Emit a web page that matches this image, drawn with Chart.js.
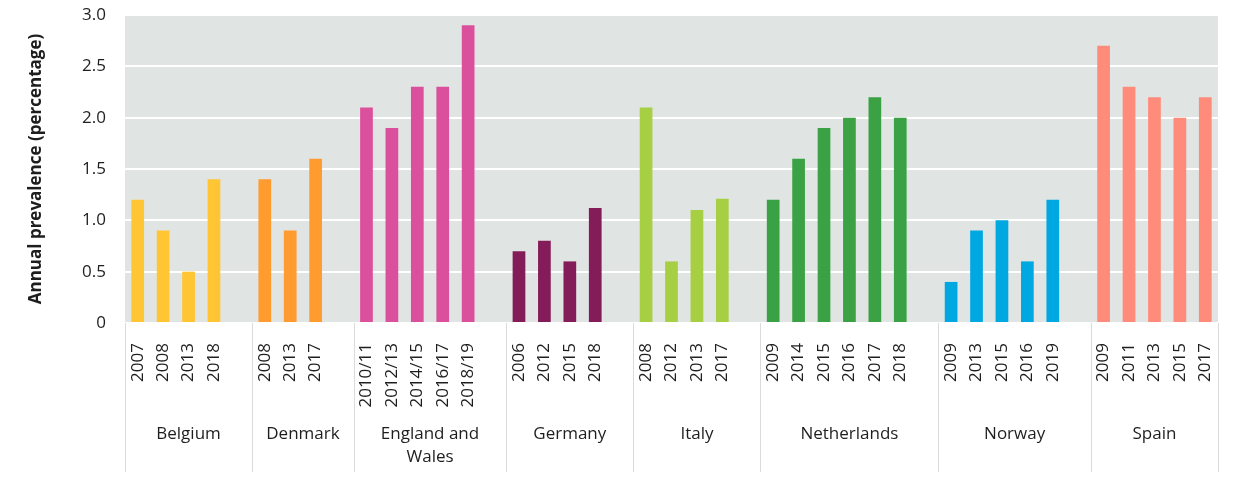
<!DOCTYPE html>
<html>
<head>
<meta charset="utf-8">
<script src="https://cdn.jsdelivr.net/npm/chart.js@4/dist/chart.umd.min.js"></script>
<style>
  html, body { margin: 0; padding: 0; background: #fff; }
  #wrap { width: 1240px; height: 487px; }
</style>
</head>
<body>
<div id="wrap"><canvas id="prevalence-chart" width="1240" height="487"></canvas></div>
<script>
const countries = ["Belgium", "Denmark", ["England and", "Wales"], "Germany", "Italy", "Netherlands", "Norway", "Spain"];
const years = [
  ["2007", "2008", "2013", "2018"],
  ["2008", "2013", "2017"],
  ["2010/11", "2012/13", "2014/15", "2016/17", "2018/19"],
  ["2006", "2012", "2015", "2018"],
  ["2008", "2012", "2013", "2017"],
  ["2009", "2014", "2015", "2016", "2017", "2018"],
  ["2009", "2013", "2015", "2016", "2019"],
  ["2009", "2011", "2013", "2015", "2017"],
];
const values = [
  [1.2, 0.9, 0.5, 1.4],
  [1.4, 0.9, 1.6],
  [2.1, 1.9, 2.3, 2.3, 2.9],
  [0.7, 0.8, 0.6, 1.12],
  [2.1, 0.6, 1.1, 1.21],
  [1.2, 1.6, 1.9, 2.0, 2.2, 2.0],
  [0.4, 0.9, 1.0, 0.6, 1.2],
  [2.7, 2.3, 2.2, 2.0, 2.2],
];
const colors = ["#ffc533", "#ff9b2f", "#db509c", "#841c5a", "#a6cf44", "#3aa245", "#00a8e1", "#ff8c7a"];
const yTicks = [0, 0.5, 1.0, 1.5, 2.0, 2.5, 3.0];

// flatten into slots, one empty slot after every group but the last
const labels = [];
const data = [];
const barColors = [];
const groups = []; // [startIndex, endIndexExclusive]
countries.forEach((c, i) => {
  const start = labels.length;
  years[i].forEach((y, j) => {
    labels.push(y);
    data.push(values[i][j]);
    barColors.push(colors[i]);
  });
  if (i < countries.length - 1) {
    labels.push("");
    data.push(null);
    barColors.push("transparent");
  }
  groups.push([start, labels.length]);
});

const FONT = "'Open Sans', 'DejaVu Sans', sans-serif";
const TEXT = "#1e1e1e";

const plotBg = {
  id: "plotBg",
  beforeDraw(chart) {
    const { ctx, chartArea: a } = chart;
    ctx.save();
    ctx.fillStyle = "#e0e4e3";
    ctx.fillRect(a.left, a.top, a.right - a.left, a.bottom - a.top);
    ctx.restore();
  },
};

const groupLabels = {
  id: "groupLabels",
  afterDraw(chart) {
    const { ctx, chartArea: a } = chart;
    const x = chart.scales.x;
    const half = (x.getPixelForValue(1) - x.getPixelForValue(0)) / 2;
    ctx.save();
    ctx.strokeStyle = "#d9dcdb";
    ctx.lineWidth = 1;
    const edges = [x.getPixelForValue(0) - half];
    groups.forEach((g) => edges.push(x.getPixelForValue(g[1] - 1) + half));
    edges.forEach((px) => {
      const xx = Math.round(px) + 0.5;
      ctx.beginPath();
      ctx.moveTo(xx, a.bottom);
      ctx.lineTo(xx, 472);
      ctx.stroke();
    });
    ctx.fillStyle = TEXT;
    ctx.font = "17px " + FONT;
    ctx.textAlign = "center";
    ctx.textBaseline = "middle";
    countries.forEach((c, i) => {
      const cx = (edges[i] + edges[i + 1]) / 2;
      const lines = Array.isArray(c) ? c : [c];
      lines.forEach((line, k) => ctx.fillText(line, cx, 434 + k * 23));
    });
    ctx.restore();
  },
};

new Chart(document.getElementById("prevalence-chart"), {
  type: "bar",
  data: {
    labels,
    datasets: [
      {
        data,
        backgroundColor: barColors,
        borderWidth: 0,
        barPercentage: 0.5,
        categoryPercentage: 1.0,
      },
    ],
  },
  options: {
    responsive: false,
    animation: false,
    layout: { padding: { top: 15, right: 22, left: 0, bottom: 0 } },
    plugins: { legend: { display: false }, tooltip: { enabled: false } },
    scales: {
      x: {
        grid: { display: false },
        border: { display: false },
        ticks: {
          color: TEXT,
          font: { family: FONT, size: 17 },
          minRotation: 90,
          maxRotation: 90,
          autoSkip: false,
          padding: 12,
        },
        afterFit(scale) { scale.height = 164; },
      },
      y: {
        min: 0,
        max: 3,
        afterBuildTicks(scale) { scale.ticks = yTicks.map((v) => ({ value: v })); },
        grid: { color: "#ffffff", lineWidth: 2, drawTicks: false },
        border: { display: false },
        ticks: {
          color: TEXT,
          font: { family: FONT, size: 17 },
          padding: 19,
          callback: (v) => (v === 0 ? "0" : v.toFixed(1)),
        },
        title: {
          display: true,
          text: "Annual prevalence (percentage)",
          color: TEXT,
          font: { family: FONT, size: 17, weight: "bold" },
          padding: { top: 26, bottom: 0 },
        },
        afterFit(scale) {
          scale.width = 125;
          scale.paddingTop = 10;
          scale.paddingBottom = 10;
        },
      },
    },
  },
  plugins: [plotBg, groupLabels],
});
</script>
</body>
</html>
